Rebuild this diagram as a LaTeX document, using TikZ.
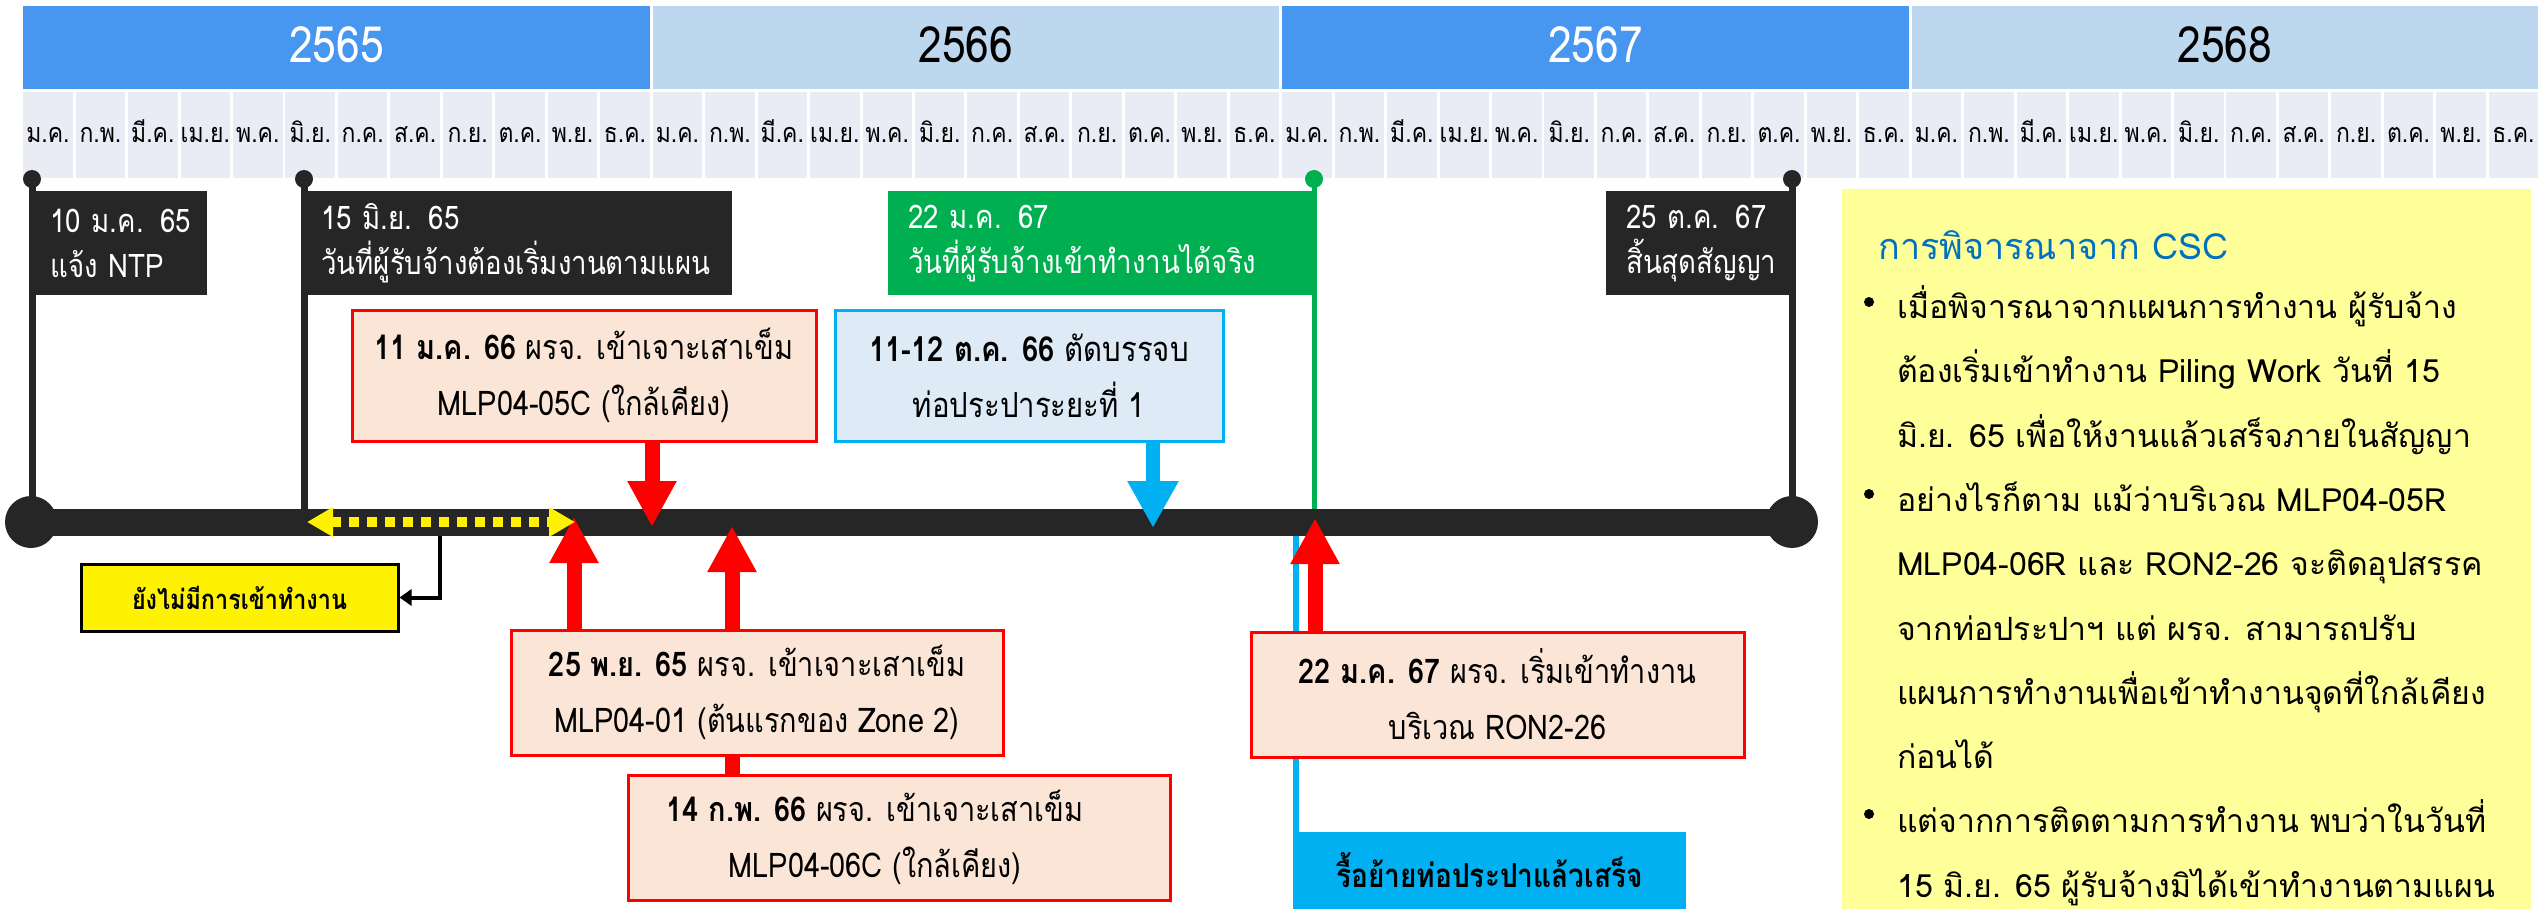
\documentclass[tikz,border=0pt]{standalone}
\usepackage{fontspec}
\setmainfont[Script=Thai]{Loma}
\newfontfamily\condf[Script=Thai,FakeStretch=0.85]{Loma}
\usetikzlibrary{arrows.meta}
\definecolor{yrdark}{HTML}{4796F0}
\definecolor{yrlight}{HTML}{BDD7EE}
\definecolor{mcell}{HTML}{E9EBF5}
\definecolor{tlblack}{HTML}{262626}
\definecolor{tlgreen}{HTML}{00B050}
\definecolor{tlcyan}{HTML}{00B0F0}
\definecolor{peach}{HTML}{FBE5D6}
\definecolor{paleblue}{HTML}{DEEBF7}
\definecolor{notefill}{HTML}{FFFF99}
\definecolor{titleblue}{HTML}{0070C0}
\newcommand{\myfs}[2]{\fontsize{#1}{#2}\selectfont}
\pgfdeclarelayer{lines}
\pgfdeclarelayer{barl}
\pgfsetlayers{lines,barl,main}
\begin{document}
\begin{tikzpicture}[x=1pt,y=-1pt,
  yearcell/.style={minimum width=626.5,minimum height=83,inner sep=0,text height=35,text depth=4,font=\condf\myfs{50}{54}},
  monthcell/.style={fill=mcell,minimum width=49.5,minimum height=86,inner sep=0,text height=22,text depth=6,font=\condf\myfs{27}{30}},
  dotc/.style={circle,fill=#1,minimum size=18,inner sep=0},
  vline/.style={draw=tlblack,line width=7},
  gline/.style={draw=tlgreen,line width=5},
  cline/.style={draw=tlcyan,line width=6},
  bar/.style={draw=tlblack,line width=27},
  endcap/.style={circle,fill=tlblack,minimum size=52,inner sep=0},
  datebox/.style={fill=#1,text=white,anchor=north west,minimum height=104,inner xsep=20,inner ysep=0,align=left,font=\condf\myfs{32.5}{45}},
  eventbox/.style={draw=red,line width=3,fill=peach,inner sep=0,align=center,font=\condf\myfs{34}{56}},
  pipebox/.style={draw=tlcyan,line width=3,fill=paleblue,inner sep=0,align=center,font=\condf\myfs{34.5}{56}},
  redarr/.style={draw=red,line width=15,-{Triangle[width=46,length=46]}},
  bluearr/.style={draw=tlcyan,line width=14,-{Triangle[width=48,length=47]}},
  ydash/.style={draw=yellow,line width=10,dash pattern=on 10 off 8,{Triangle[width=28,length=26]}-{Triangle[width=28,length=26]}},
  elbow/.style={draw=black,line width=4,-{Triangle[width=16,length=12]}},
  notetext/.style={anchor=base west,inner sep=0,font=\myfs{32}{40}},
  bulletdot/.style={circle,fill=black,minimum size=10,inner sep=0}
]
\useasboundingbox (0,0) rectangle (2542,909);
% years
\foreach \i/\yr/\c/\t in {0/2565/yrdark/white,1/2566/yrlight/black,2/2567/yrdark/white,3/2568/yrlight/black}{
  \pgfmathsetmacro{\xx}{21.7+629.5*\i+314.75}
  \node[yearcell,fill=\c,text=\t] (y\i) at (\xx,47.5) {\yr};
}
% months
\foreach \i in {0,...,3}{
  \foreach \m [count=\k from 0] in {ม.ค.,ก.พ.,มี.ค.,เม.ย.,พ.ค.,มิ.ย.,ก.ค.,ส.ค.,ก.ย.,ต.ค.,พ.ย.,ธ.ค.}{
    \pgfmathsetmacro{\xx}{21.7+629.5*\i+52.458*\k+26.23}
    \node[monthcell] (m\i-\k) at (\xx,135) {\m};
  }
}
% coordinates
\coordinate (tl) at (31,522);
\coordinate (tr) at (1792,522);
\coordinate (t1) at (652,527);
\coordinate (t2) at (574,517);
\coordinate (t3) at (732,526);
\coordinate (t4) at (1315,518);
\coordinate (t5) at (1153,528);
\coordinate (ya) at (307,522);
\coordinate (yb) at (575,522);
\coordinate (yc) at (440,536);
\coordinate (cy) at (1296,522);
% dots
\node[dotc=tlblack] (d1) at (32,179) {};
\node[dotc=tlblack] (d2) at (304,179) {};
\node[dotc=tlgreen] (d3) at (1314,179) {};
\node[dotc=tlblack] (d4) at (1792,179) {};
% date boxes
\node[datebox=tlblack,minimum width=177,text width=137] (k1) at (30,191) {\mbox{10 ม.ค. 65}\\\mbox{แจ้ง NTP}};
\node[datebox=tlblack,minimum width=431,text width=391] (k2) at (301,191) {\mbox{15 มิ.ย. 65}\\\mbox{วันที่ผู้รับจ้างต้องเริ่มงานตามแผน}};
\node[datebox=tlgreen,minimum width=426,text width=386] (k3) at (888,191) {\mbox{22 ม.ค. 67}\\\mbox{วันที่ผู้รับจ้างเข้าทำงานได้จริง}};
\node[datebox=tlblack,minimum width=186,text width=146] (k4) at (1606,191) {\mbox{25 ต.ค. 67}\\\mbox{สิ้นสุดสัญญา}};
% event boxes
\node[eventbox,minimum width=464,minimum height=131] (b1) at (584,375.5) {\textbf{11 ม.ค. 66} ผรจ. เข้าเจาะเสาเข็ม\\MLP04-05C (ใกล้เคียง)};
\node[pipebox,minimum width=388,minimum height=131] (b2) at (1029,375.5) {\textbf{11-12 ต.ค. 66} ตัดบรรจบ\\ท่อประปาระยะที่ 1};
\node[eventbox,minimum width=492,minimum height=125] (b3) at (757,692.5) {\textbf{25 พ.ย. 65} ผรจ. เข้าเจาะเสาเข็ม\\MLP04-01 (ต้นแรกของ Zone 2)};
\node[eventbox,minimum width=542,minimum height=125] (b4) at (899,837.5) {};
\node[inner sep=0,align=center,font=\condf\myfs{34}{56}] (b4t) at (875,837.5) {\textbf{14 ก.พ. 66} ผรจ. เข้าเจาะเสาเข็ม\\MLP04-06C (ใกล้เคียง)};
\node[eventbox,minimum width=493,minimum height=125] (b5) at (1497.5,694.5) {\textbf{22 ม.ค. 67} ผรจ. เริ่มเข้าทำงาน\\บริเวณ RON2-26};
\node[fill=tlcyan,minimum width=393,minimum height=77,inner sep=0,font=\condf\bfseries\myfs{33}{36}] (b6) at (1489.5,870.5) {รื้อย้ายท่อประปาแล้วเสร็จ};
\node[draw=black,line width=3,fill=yellow,minimum width=317,minimum height=67,inner sep=0,font=\condf\bfseries\myfs{27.5}{32}] (ybox) at (239.5,597.5) {ยังไม่มีการเข้าทำงาน};
% note
\node[fill=notefill,anchor=north west,minimum width=689,minimum height=720,inner sep=0] (note) at (1842,189) {};
\node[anchor=base west,inner sep=0,text=titleblue,font=\myfs{36}{40}] (ntitle) at (1878,260) {การพิจารณาจาก CSC};
\node[bulletdot] (bu1) at (1869,302) {};
\node[bulletdot] (bu2) at (1869,494) {};
\node[bulletdot] (bu3) at (1869,814) {};
\node[notetext] (n1) at (1897,318) {เมื่อพิจารณาจากแผนการทำงาน ผู้รับจ้าง};
\node[notetext] (n2) at (1897,382) {ต้องเริ่มเข้าทำงาน Piling Work วันที่ 15};
\node[notetext] (n3) at (1897,447) {มิ.ย. 65 เพื่อให้งานแล้วเสร็จภายในสัญญา};
\node[notetext] (n4) at (1897,511) {อย่างไรก็ตาม แม้ว่าบริเวณ MLP04-05R};
\node[notetext] (n5) at (1897,575) {MLP04-06R และ RON2-26 จะติดอุปสรรค};
\node[notetext] (n6) at (1897,640) {จากท่อประปาฯ แต่ ผรจ. สามารถปรับ};
\node[notetext] (n7) at (1897,704) {แผนการทำงานเพื่อเข้าทำงานจุดที่ใกล้เคียง};
\node[notetext] (n8) at (1897,768) {ก่อนได้};
\node[notetext] (n9) at (1897,832) {แต่จากการติดตามการทำงาน พบว่าในวันที่};
\node[notetext] (n10) at (1897,897) {15 มิ.ย. 65 ผู้รับจ้างมิได้เข้าทำงานตามแผน};
% lines
\begin{pgfonlayer}{lines}
\draw[vline] (d1.center) -- (d1.center |- tl);
\draw[vline] (d2.center) -- (d2.center |- tl);
\draw[gline] (d3.center) -- (d3.center |- tl);
\draw[vline] (d4.center) -- (tr);
\draw[cline] (cy) -- (cy |- b6.north);
\end{pgfonlayer}
\begin{pgfonlayer}{barl}
\draw[bar] (tl) -- (tr);
\node[endcap] (capL) at (tl) {};
\node[endcap] (capR) at (tr) {};
\draw[redarr] (b1.south -| t1) -- (t1);
\draw[bluearr] (b2.south -| t5) -- (t5);
\draw[redarr] (b3.north -| t2) -- (t2);
\draw[redarr] (b4.north -| t3) -- (t3);
\draw[redarr] (b5.north -| t4) -- (t4);
\draw[ydash] (ya) -- (yb);
\draw[elbow] (yc) |- (ybox.east);
\end{pgfonlayer}
\end{tikzpicture}
\end{document}
